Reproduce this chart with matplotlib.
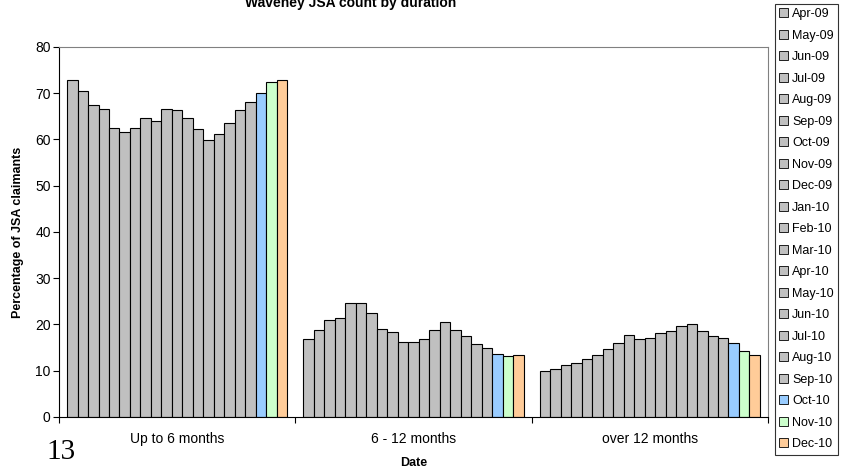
import matplotlib
matplotlib.use('Agg')
import matplotlib.pyplot as plt
from matplotlib.patches import Patch
import numpy as np

plt.rcParams['font.family'] = ['Liberation Sans', 'DejaVu Sans']

groups = ['Up to 6 months', '6 - 12 months', 'over 12 months']
months = ['Apr-09', 'May-09', 'Jun-09', 'Jul-09', 'Aug-09', 'Sep-09', 'Oct-09',
          'Nov-09', 'Dec-09', 'Jan-10', 'Feb-10', 'Mar-10', 'Apr-10', 'May-10',
          'Jun-10', 'Jul-10', 'Aug-10', 'Sep-10', 'Oct-10', 'Nov-10', 'Dec-10']

up_to_6 = [72.9, 70.4, 67.4, 66.7, 62.5, 61.7, 62.5, 64.7, 63.9, 66.7, 66.4,
           64.7, 62.3, 59.8, 61.1, 63.6, 66.3, 68.0, 70.0, 72.4, 72.9]
six_to_12 = [16.9, 18.8, 21.0, 21.5, 24.7, 24.7, 22.5, 19.1, 18.4, 16.3, 16.3,
             16.9, 18.8, 20.5, 18.8, 17.6, 15.7, 15.0, 13.7, 13.1, 13.5]
over_12 = [9.9, 10.4, 11.3, 11.6, 12.6, 13.4, 14.8, 16.0, 17.7, 16.9, 17.1,
           18.1, 18.7, 19.6, 20.0, 18.5, 17.5, 17.0, 16.0, 14.2, 13.4]

colors = ['#C0C0C0'] * 18 + ['#99CCFF', '#CCFFCC', '#FFCC99']

data = np.array([up_to_6, six_to_12, over_12])

fig = plt.figure(figsize=(8.42, 4.70), dpi=100)
ax = fig.add_axes([0.0701, 0.1128, 0.8420, 0.7872])

n = len(months)
gap = 0.068
w = (1 - gap) / n
x = np.arange(len(groups))
for i in range(n):
    ax.bar(x - 0.5 + gap / 2 + (i + 0.5) * w, data[:, i], width=w,
           color=colors[i], edgecolor='black', linewidth=0.8)

ax.set_xlim(-0.5, 2.5)
ax.set_ylim(0, 80)
ax.set_yticks(range(0, 81, 10))
ax.tick_params(axis='y', labelsize=10, length=4, width=0.8, direction='out', pad=2)
ax.set_xticks([-0.5, 0.5, 1.5, 2.5])
ax.set_xticklabels([])
ax.tick_params(axis='x', length=4, width=0.8, direction='out')
ax.set_xticks(x, minor=True)
ax.set_xticklabels(groups, minor=True)
ax.tick_params(axis='x', which='minor', length=0, labelsize=10, pad=11)

for s in ['top', 'right']:
    ax.spines[s].set_color('#808080')
    ax.spines[s].set_linewidth(0.8)
for s in ['left', 'bottom']:
    ax.spines[s].set_color('black')
    ax.spines[s].set_linewidth(0.8)

ax.set_ylabel('Percentage of JSA claimants', fontsize=9, fontweight='bold', labelpad=8)
ax.set_xlabel('Date', fontsize=9, fontweight='bold', labelpad=8)

fig.text(0.417, 0.993, 'Waveney JSA count by duration', fontsize=10,
         fontweight='bold', ha='center', va='center')
fig.text(0.073, 0.01, '13', fontsize=21, family='Liberation Serif',
         ha='center', va='bottom')

handles = [Patch(facecolor=colors[i], edgecolor='black', linewidth=0.6)
           for i in range(n)]
leg = fig.legend(handles, months, loc='upper left', bbox_to_anchor=(0.92, 0.992),
                 fontsize=9, frameon=True, fancybox=False, borderpad=0.35,
                 labelspacing=0.76, handlelength=0.75, handleheight=0.75,
                 handletextpad=0.3, borderaxespad=0)
leg.get_frame().set_edgecolor('black')
leg.get_frame().set_linewidth(0.8)

fig.savefig('out.png', dpi=100)
